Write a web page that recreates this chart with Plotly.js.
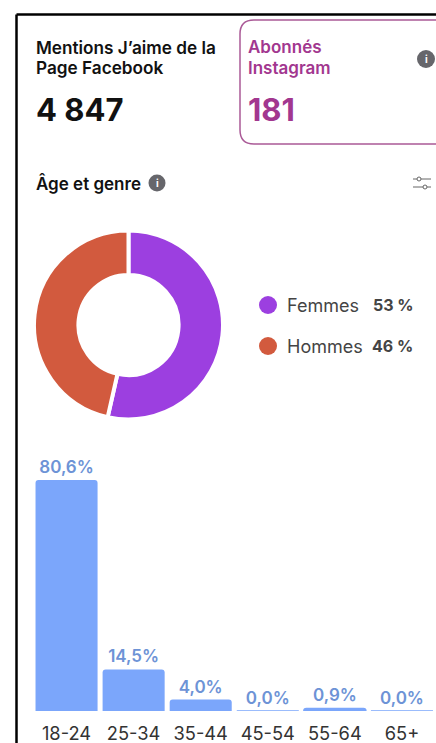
<!DOCTYPE html>
<html><head><meta charset="utf-8">
<script src="https://cdn.plot.ly/plotly-3.0.1.min.js"></script>
<style>html,body{margin:0;padding:0;background:#fff}#c{width:436px;height:743px}</style></head>
<body><div id="c"></div>
<script>
const genders = ['Femmes', 'Hommes'];
const genderValues = [53, 46];
const genderLabels = ['53 %', '46 %'];
const genderColors = ['#9c3fe0', '#d25a3e'];
const ageGroups = ['18-24', '25-34', '35-44', '45-54', '55-64', '65+'];
const ageValues = [80.6, 14.5, 4.0, 0.0, 0.9, 0.0];
const ageLabels = ['80,6%', '14,5%', '4,0%', '0,0%', '0,9%', '0,0%'];

const W = 436, H = 743;
const X = p => p / W, Y = p => 1 - p / H;
const FONT = 'Inter, "Noto Sans", sans-serif';
const txt = (text, x, y, size, color, weight, anchor) => ({
  text, x: X(x - (anchor ? 0 : 2)), y: Y(y), xref: 'paper', yref: 'paper', showarrow: false,
  xanchor: anchor || 'left', yanchor: 'middle', align: 'left',
  font: {family: FONT, size, color, weight: weight || 400}
});
const circ = (cx, cy, r, color) => ({
  type: 'circle', xref: 'paper', yref: 'paper', layer: 'above',
  x0: X(cx - r), x1: X(cx + r), y0: Y(cy + r), y1: Y(cy - r),
  fillcolor: color, line: {width: 0}
});
const seg = (x0, y0, x1, y1, color, w) => ({
  type: 'line', xref: 'paper', yref: 'paper', layer: 'above',
  x0: X(x0), x1: X(x1), y0: Y(y0), y1: Y(y1), line: {color, width: w}
});
const ringIcon = (cx, cy) => ({
  type: 'circle', xref: 'paper', yref: 'paper', layer: 'above',
  x0: X(cx - 2), x1: X(cx + 2), y0: Y(cy + 2), y1: Y(cy - 2),
  fillcolor: '#fff', line: {color: '#666', width: 1}
});
const card = (() => {
  const l = X(240), r = X(437), t = Y(20), b = Y(144), rx = X(14), ry = 14 / H;
  return {
    type: 'path', xref: 'paper', yref: 'paper', layer: 'above',
    path: `M ${r} ${t} L ${l + rx} ${t} Q ${l} ${t} ${l} ${t - ry} L ${l} ${b + ry} Q ${l} ${b} ${l + rx} ${b} L ${r} ${b}`,
    line: {color: '#aa5a97', width: 1.5}
  };
})();

const donut = {
  type: 'pie', labels: genders, values: genderValues, hole: 0.53, sort: false,
  direction: 'clockwise', rotation: 0, textinfo: 'none', hoverinfo: 'label+percent',
  marker: {colors: genderColors, line: {color: '#fff', width: 4}},
  domain: {x: [X(128.5 - 94.5), X(128.5 + 94.5)], y: [Y(325 + 94.5), Y(325 - 94.5)]},
  showlegend: false
};
const bars = {
  type: 'bar', x: ageGroups, y: ageValues, text: ageLabels, textposition: 'outside',
  cliponaxis: false,
  textfont: {family: FONT, size: 17, color: '#6d93d6', weight: 600},
  marker: {color: '#7ba6fb', line: {color: '#7ba6fb', width: ageValues.map(v => v < 1 ? 1.5 : 0)}},
  xaxis: 'x', yaxis: 'y', showlegend: false, hoverinfo: 'x+y'
};

const annotations = [
  txt('Mentions J’aime de la', 36, 47, 17.2, '#111', 600),
  txt('Page Facebook', 36, 68, 17.2, '#111', 600),
  txt('4 847', 36, 109, 31, '#111', 700),
  txt('Abonnés', 248, 47, 17, '#a2378f', 600),
  txt('Instagram', 248, 68, 17, '#a2378f', 600),
  txt('181', 248, 109, 31, '#a2378f', 700),
  txt('i', 426, 59, 10, '#fff', 700, 'center'),
  txt('Âge et genre', 36, 183, 17, '#111', 600),
  txt('i', 157, 183, 10, '#fff', 700, 'center'),
  txt(genders[0], 287, 305, 18, '#444', 400),
  txt(genders[1], 287, 346, 18, '#444', 400),
  txt(genderLabels[0], 373, 305, 16, '#444', 700),
  txt(genderLabels[1], 372, 346, 16, '#444', 700)
];

const shapes = [
  seg(16.5, 14.5, 437, 14.5, '#000', 2.5),
  seg(16.5, 14.5, 16.5, 744, '#000', 2.5),
  card,
  circ(426, 59, 9, '#66666b'),
  circ(157, 183, 8.5, '#66666b'),
  seg(413, 179, 431, 179, '#666', 1), ringIcon(419, 179),
  seg(413, 187, 431, 187, '#666', 1), ringIcon(425, 187),
  circ(268, 305, 9, genderColors[0]),
  circ(268, 346, 9, genderColors[1])
];

const layout = {
  width: W, height: H, margin: {l: 0, r: 0, t: 0, b: 0},
  paper_bgcolor: '#fff', plot_bgcolor: '#fff', showlegend: false,
  bargap: 0.075, barcornerradius: 3,
  font: {family: FONT},
  xaxis: {
    domain: [X(33), X(435.5)], type: 'category', showgrid: false, zeroline: false,
    showline: false, ticks: '', ticklen: 0, fixedrange: true, ticklabelstandoff: 10,
    tickfont: {family: FONT, size: 18.3, color: '#333'}
  },
  yaxis: {
    domain: [Y(711), Y(430)], range: [0, 98], showgrid: false, zeroline: false,
    showline: false, showticklabels: false, ticks: '', fixedrange: true
  },
  annotations, shapes
};
Plotly.newPlot('c', [donut, bars], layout, {displayModeBar: false, staticPlot: true});
</script></body></html>
